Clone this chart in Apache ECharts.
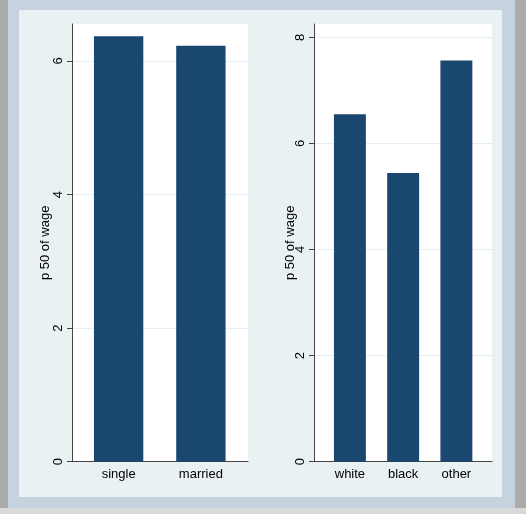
<!DOCTYPE html>
<html>
<head>
<meta charset="utf-8">
<script src="https://cdn.jsdelivr.net/npm/echarts@6/dist/echarts.min.js"></script>
<style>
  html, body { margin: 0; padding: 0; }
  body { width: 526px; height: 514px; background: #ababab; position: relative; overflow: hidden; }
  #frame { position: absolute; left: 8px; top: 0; width: 507px; height: 508px; background: #c6d2dd; }
  #panel { position: absolute; left: 19px; top: 10px; width: 483px; height: 487px; background: #e9f1f3; }
  #strip { position: absolute; left: 0; top: 508px; width: 526px; height: 6px; background: #d9d9d9; }
  #chart { position: absolute; left: 0; top: 0; width: 526px; height: 514px; }
</style>
</head>
<body>
<div id="frame"></div>
<div id="panel"></div>
<div id="strip"></div>
<div id="chart"></div>
<script>
// median wage by marital status and by race
var maritalCats = ["single", "married"];
var maritalWage = [6.37, 6.23];
var raceCats = ["white", "black", "other"];
var raceWage = [6.55, 5.44, 7.56];
var leftTicks = [0, 2, 4, 6];
var rightTicks = [0, 2, 4, 6, 8];

var barColor = "#1a476f";
var axisColor = "#444";
var font = "Liberation Sans, Arial, sans-serif";

var chart = echarts.init(document.getElementById("chart"));

function frameY(max, ticks, nameGap) {
  return {
    gridIndex: 0, type: "value", min: 0, max: max,
    name: "p 50 of wage", nameLocation: "middle", nameGap: nameGap, nameRotate: 90,
    nameMoveOverlap: false,
    nameTextStyle: { color: "#000", fontSize: 13, fontFamily: font },
    axisLine: { show: true, lineStyle: { color: axisColor, width: 1 } },
    axisTick: { show: true, length: 5, customValues: ticks, lineStyle: { color: axisColor } },
    axisLabel: { show: true, rotate: 90, margin: 7, customValues: ticks, color: "#000", fontSize: 13, fontFamily: font },
    splitLine: { show: true, lineStyle: { color: "#e6eef1", width: 1 } }
  };
}

chart.setOption({
  animation: false,
  grid: [
    // frames (white plot region + axis lines)
    { left: 72, top: 24, width: 176, height: 437.7, show: true, backgroundColor: "#fff", borderWidth: 0 },
    { left: 314, top: 24, width: 178, height: 437.7, show: true, backgroundColor: "#fff", borderWidth: 0 },
    // bar areas
    { left: 77.5, top: 24, width: 164.5, height: 437.7 },
    { left: 323.3, top: 24, width: 159.7, height: 437.7 }
  ],
  xAxis: [
    { gridIndex: 0, type: "value", min: 0, max: 1, axisLine: { show: true, onZero: false, lineStyle: { color: axisColor } },
      axisTick: { show: false }, axisLabel: { show: false }, splitLine: { show: false } },
    { gridIndex: 1, type: "value", min: 0, max: 1, axisLine: { show: true, onZero: false, lineStyle: { color: axisColor } },
      axisTick: { show: false }, axisLabel: { show: false }, splitLine: { show: false } },
    { gridIndex: 2, type: "category", data: maritalCats, axisLine: { show: false }, axisTick: { show: false },
      axisLabel: { margin: 6, color: "#000", fontSize: 13, fontFamily: font } },
    { gridIndex: 3, type: "category", data: raceCats, axisLine: { show: false }, axisTick: { show: false },
      axisLabel: { margin: 6, color: "#000", fontSize: 13, fontFamily: font } }
  ],
  yAxis: [
    frameY(6.554, leftTicks, 20),
    Object.assign(frameY(8.25, rightTicks, 17.5), { gridIndex: 1 }),
    { gridIndex: 2, type: "value", min: 0, max: 6.554, show: false },
    { gridIndex: 3, type: "value", min: 0, max: 8.25, show: false }
  ],
  series: [
    { type: "bar", xAxisIndex: 2, yAxisIndex: 2, data: maritalWage, barWidth: "60%",
      itemStyle: { color: barColor } },
    { type: "bar", xAxisIndex: 3, yAxisIndex: 3, data: raceWage, barWidth: "60%",
      itemStyle: { color: barColor } }
  ]
});
</script>
</body>
</html>
